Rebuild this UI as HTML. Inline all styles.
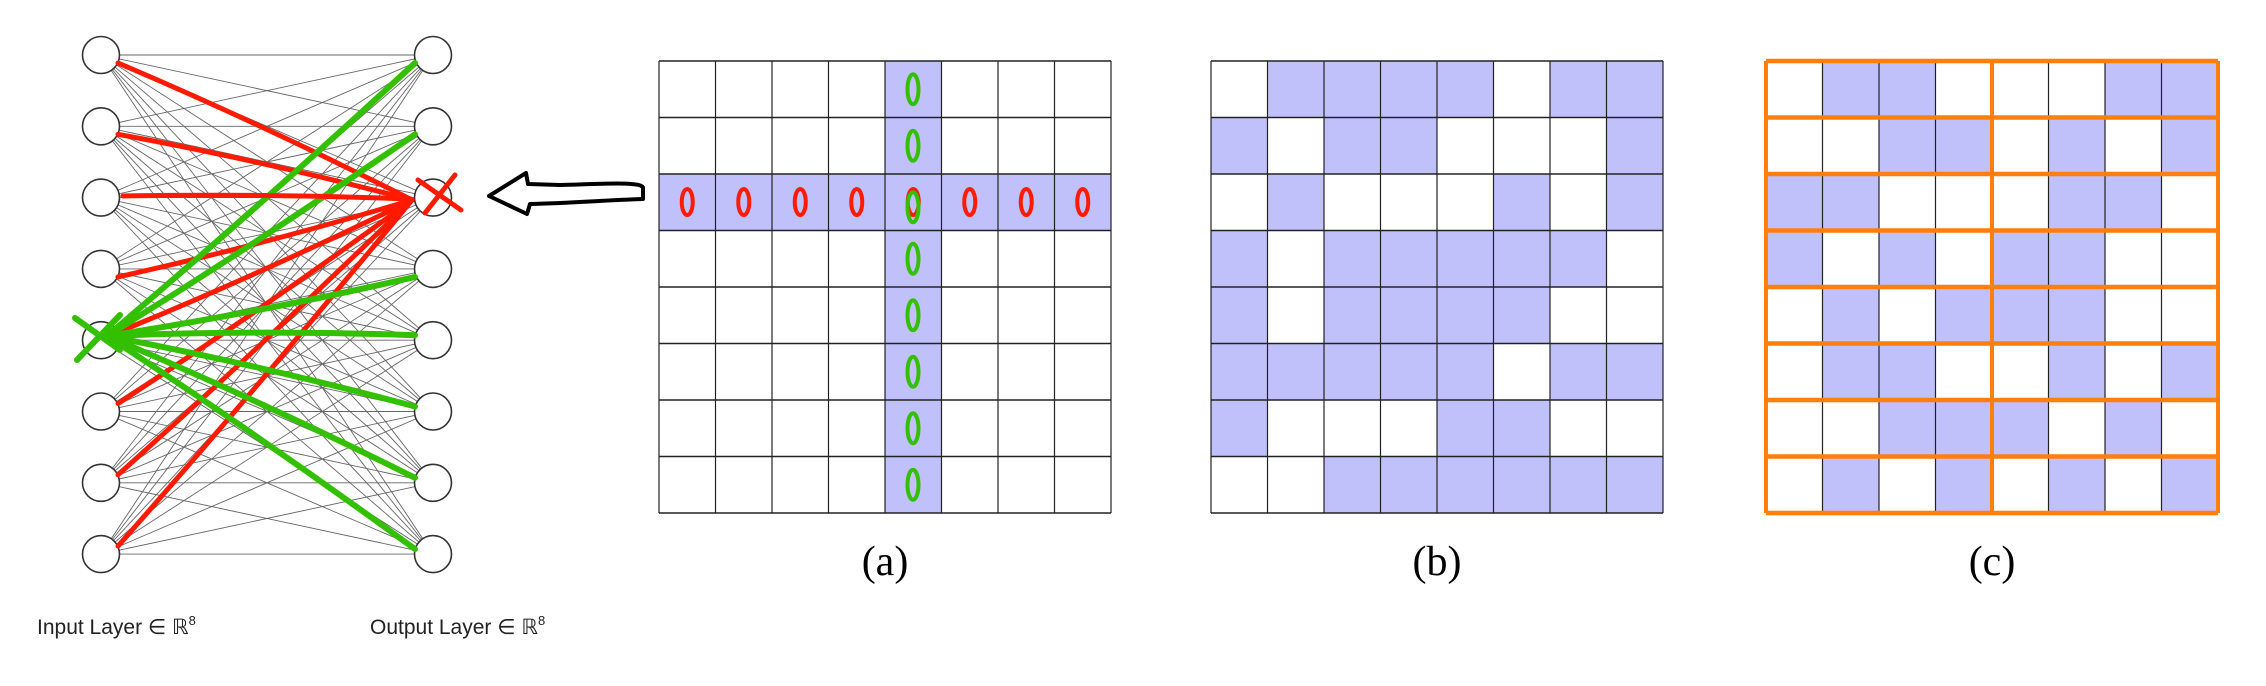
<!DOCTYPE html>
<html><head><meta charset="utf-8"><style>
html,body{margin:0;padding:0;background:#fff;width:2266px;height:686px;overflow:hidden}
svg{display:block}
</style></head><body>
<svg id="s" width="2266" height="686" xmlns="http://www.w3.org/2000/svg">
<g id="net"></g>
<text x="37" y="634" font-family="Liberation Sans, DejaVu Sans, sans-serif" font-size="21" fill="#222">Input Layer ∈ ℝ<tspan dy="-9" font-size="13">8</tspan></text>
<text x="370" y="634" font-family="Liberation Sans, DejaVu Sans, sans-serif" font-size="21" fill="#222">Output Layer ∈ ℝ<tspan dy="-9" font-size="13">8</tspan></text>
<path d="M643,188 C643,181 600,184 560,185 L528,184 L526,173 L489,196 L527,214 L530,204 C570,203 610,200 643,199 Z" fill="none" stroke="#000" stroke-width="4" stroke-linejoin="round"/>
<g id="grids"></g>
<text x="885" y="575" text-anchor="middle" font-family="Liberation Serif, serif" font-size="42">(a)</text>
<text x="1437" y="575" text-anchor="middle" font-family="Liberation Serif, serif" font-size="42">(b)</text>
<text x="1992" y="575" text-anchor="middle" font-family="Liberation Serif, serif" font-size="42">(c)</text>
</svg>
<script>
(function(){
const NS="http://www.w3.org/2000/svg";
function el(p,t,a){const e=document.createElementNS(NS,t);for(const k in a)e.setAttribute(k,a[k]);p.appendChild(e);return e;}
const net=document.getElementById('net');
const xi=101,xo=433,ys=[];for(let i=0;i<8;i++)ys.push(55+i*71.3);
for(let i=0;i<8;i++)for(let j=0;j<8;j++)el(net,'line',{x1:xi,y1:ys[i],x2:xo,y2:ys[j],stroke:'#666','stroke-width':0.9});
function curve(x1,y1,x2,y2,c,w,b){const mx=(x1+x2)/2,my=(y1+y2)/2+b;el(net,'path',{d:`M${x1},${y1} Q${mx},${my} ${x2},${y2}`,fill:'none',stroke:c,'stroke-width':w,'stroke-linecap':'round'});}
for(let i=0;i<8;i++){el(net,'circle',{cx:xi,cy:ys[i],r:18.5,fill:'#fff',stroke:'#333','stroke-width':1.6});el(net,'circle',{cx:xo,cy:ys[i],r:18.5,fill:'#fff',stroke:'#333','stroke-width':1.6});}
for(let i=0;i<8;i++){if(i!=2)curve(118,ys[i]+(i<4?8:-8),412,200,'#ff1a00',5,i<2?-6:6);}
for(let j=0;j<8;j++){if(j!=2)curve(107,336,415,ys[j]+(j<4?8:-5),'#33c000',6,j<4?6:-6);}
curve(123,196,411,199,'#ff1a00',5,-4);
el(net,'path',{d:'M418,180 L461,210 M455,175 L425,213',stroke:'#ff1a00','stroke-width':5,fill:'none','stroke-linecap':'round'});
el(net,'path',{d:'M75,318 L120,350 M120,315 L77,360',stroke:'#33c000','stroke-width':6,fill:'none','stroke-linecap':'round'});
const g=document.getElementById('grids');const cs=56.5,T0=61,blue='#c0c0fb';
function grid(x0,pat,orange){
 for(let r=0;r<8;r++)for(let c=0;c<8;c++)el(g,'rect',{x:x0+c*cs,y:T0+r*cs,width:cs,height:cs,fill:pat[r][c]=='1'?blue:'#fff'});
 for(let k=0;k<=8;k++){
  const vo=orange&&(k==0||k==4||k==8);
  el(g,'line',{x1:x0+k*cs,y1:T0,x2:x0+k*cs,y2:T0+8*cs,stroke:vo?'#ff7f0e':'#222','stroke-width':vo?4:1.2});
 }
 for(let k=0;k<=8;k++)el(g,'line',{x1:x0,y1:T0+k*cs,x2:x0+8*cs,y2:T0+k*cs,stroke:orange?'#ff7f0e':'#222','stroke-width':orange?4.5:1.6});
}
const A=[];for(let r=0;r<8;r++){let s='';for(let c=0;c<8;c++)s+=(r==2||c==4)?'1':'0';A.push(s);}
grid(659,A,false);
grid(1211,['01111011','10110001','01000101','10111110','10111100','11111011','10001100','00111111'],false);
grid(1766,['01100011','00110101','11000110','10101100','01011100','01100101','00111010','01010101'],true);
for(let c=0;c<8;c++)el(g,'ellipse',{cx:659+(c+0.5)*cs,cy:202,rx:5.5,ry:13,fill:'none',stroke:'#ff1a00','stroke-width':4});
for(let r=0;r<8;r++)el(g,'ellipse',{cx:913,cy:T0+(r+0.5)*cs+(r==2?5:0),rx:5.5,ry:15,fill:'none',stroke:'#33c000','stroke-width':4});
})();
</script>
</body></html>
